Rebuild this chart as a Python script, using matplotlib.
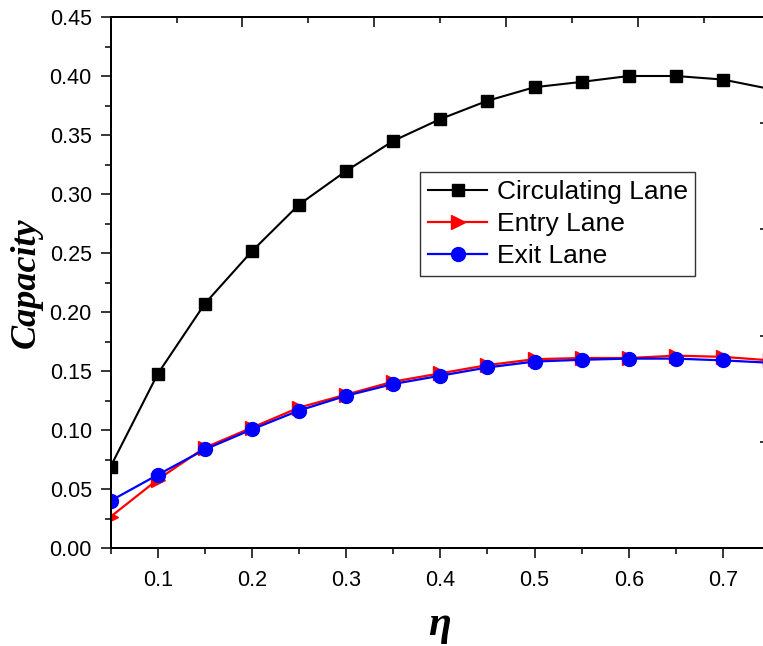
import matplotlib
matplotlib.use("Agg")
import matplotlib.pyplot as plt
from matplotlib.ticker import MultipleLocator, FixedLocator, NullFormatter

# Capacity versus eta for the three lane types
eta = [0.05, 0.10, 0.15, 0.20, 0.25, 0.30, 0.35, 0.40, 0.45, 0.50,
       0.55, 0.60, 0.65, 0.70, 0.75]
circulating = [0.069, 0.1475, 0.207, 0.2515, 0.291, 0.3195, 0.345, 0.3635,
               0.379, 0.3905, 0.395, 0.400, 0.400, 0.397, 0.389]
entry = [0.0265, 0.058, 0.085, 0.102, 0.119, 0.130, 0.141, 0.148,
         0.155, 0.160, 0.161, 0.161, 0.163, 0.162, 0.159]
exit_ = [0.040, 0.062, 0.0835, 0.1005, 0.1165, 0.129, 0.139, 0.146,
         0.153, 0.158, 0.1595, 0.1605, 0.1605, 0.159, 0.157]

series_names = ["Circulating Lane", "Entry Lane", "Exit Lane"]
x_tick_labels = ["0.1", "0.2", "0.3", "0.4", "0.5", "0.6", "0.7"]
y_tick_labels = ["0.00", "0.05", "0.10", "0.15", "0.20", "0.25",
                 "0.30", "0.35", "0.40", "0.45"]

W, H = 763, 646
fig = plt.figure(figsize=(W / 100, H / 100), dpi=100)

# axes frame: right spine sits just past the figure edge
left_px, right_px, bottom_px, top_px = 110.6, 770, 548, 17
ax = fig.add_axes([left_px / W, 1 - bottom_px / H,
                   (right_px - left_px) / W, (bottom_px - top_px) / H])

tick_font = dict(family="Liberation Sans", size=15.5)

ax.plot(eta, circulating, color="black", marker="s", markersize=9,
        linewidth=1.5, label=series_names[0], zorder=3)
ax.plot(eta, entry, color="#ff0000", marker=">", markersize=10,
        linewidth=1.6, label=series_names[1], zorder=4)
ax.plot(eta, exit_, color="#0000ff", marker="o", markersize=10,
        linewidth=1.6, label=series_names[2], zorder=5)

ax.set_xlim(0.05, 0.75)
ax.set_ylim(0.0, 0.45)
ax.xaxis.set_major_locator(FixedLocator([0.1, 0.2, 0.3, 0.4, 0.5, 0.6, 0.7]))
ax.xaxis.set_minor_locator(FixedLocator([0.05, 0.15, 0.25, 0.35, 0.45, 0.55, 0.65, 0.75]))
ax.set_xticklabels(x_tick_labels, fontdict=tick_font)
ax.yaxis.set_major_locator(FixedLocator([i * 0.05 for i in range(10)]))
ax.yaxis.set_minor_locator(MultipleLocator(0.025))
ax.set_yticklabels(y_tick_labels, fontdict=tick_font)

ax.tick_params(axis="both", which="major", direction="out", length=7.5,
               width=1.1, pad=6, colors="black")
ax.tick_params(axis="both", which="minor", direction="out", length=4,
               width=1.1)
ax.tick_params(axis="x", which="major", pad=8)
for s in ax.spines.values():
    s.set_linewidth(1.3)

# mirrored top axis with inward ticks
ax_top = ax.twiny()
ax_top.set_xlim(0.05, 0.75)
ax_top.xaxis.set_major_locator(FixedLocator([0.05, 0.19, 0.33, 0.47, 0.61, 0.75]))
ax_top.xaxis.set_minor_locator(FixedLocator([0.12, 0.26, 0.40, 0.54, 0.68]))
ax_top.xaxis.set_major_formatter(NullFormatter())
ax_top.tick_params(axis="x", which="major", direction="in", length=7.5, width=1.1)
ax_top.tick_params(axis="x", which="minor", direction="in", length=4, width=1.1)
ax_top.tick_params(axis="y", which="both", left=False, right=False,
                   labelleft=False, labelright=False)

# mirrored right axis with inward ticks
ax_right = ax.twinx()
ax_right.set_ylim(0.0, 0.45)
ax_right.yaxis.set_major_locator(FixedLocator([0.0, 0.09, 0.18, 0.27, 0.36, 0.45]))
ax_right.yaxis.set_minor_locator(FixedLocator([0.045, 0.135, 0.225, 0.315, 0.405]))
ax_right.yaxis.set_major_formatter(NullFormatter())
ax_right.tick_params(axis="y", which="major", direction="in", length=7.5, width=1.1)
ax_right.tick_params(axis="y", which="minor", direction="in", length=4, width=1.1)
ax_right.tick_params(axis="x", which="both", bottom=False, top=False,
                     labelbottom=False, labeltop=False)
for a in (ax_top, ax_right):
    for s in a.spines.values():
        s.set_linewidth(1.3)

handles, labels = ax.get_legend_handles_labels()
leg = ax_right.legend(handles, labels, loc="upper left",
                      bbox_to_anchor=(420 / W, 1 - 172 / H),
                      bbox_transform=fig.transFigure, borderaxespad=0,
                      prop=dict(family="Liberation Sans", size=19),
                      handlelength=2.25, handletextpad=0.35, borderpad=0.3,
                      labelspacing=0.3, fancybox=False, framealpha=1,
                      edgecolor="#333333")
leg.get_frame().set_linewidth(1.0)

label_font = dict(family="Liberation Serif", weight="bold", style="italic")
fig.text(26 / W, 1 - 283 / H, "Capacity", rotation=90, ha="center",
         va="center", fontsize=26, **label_font)
fig.text(440 / W, 1 - 625 / H, "η", ha="center", va="center",
         fontsize=30, **label_font)

fig.savefig("out.png", dpi=100)
